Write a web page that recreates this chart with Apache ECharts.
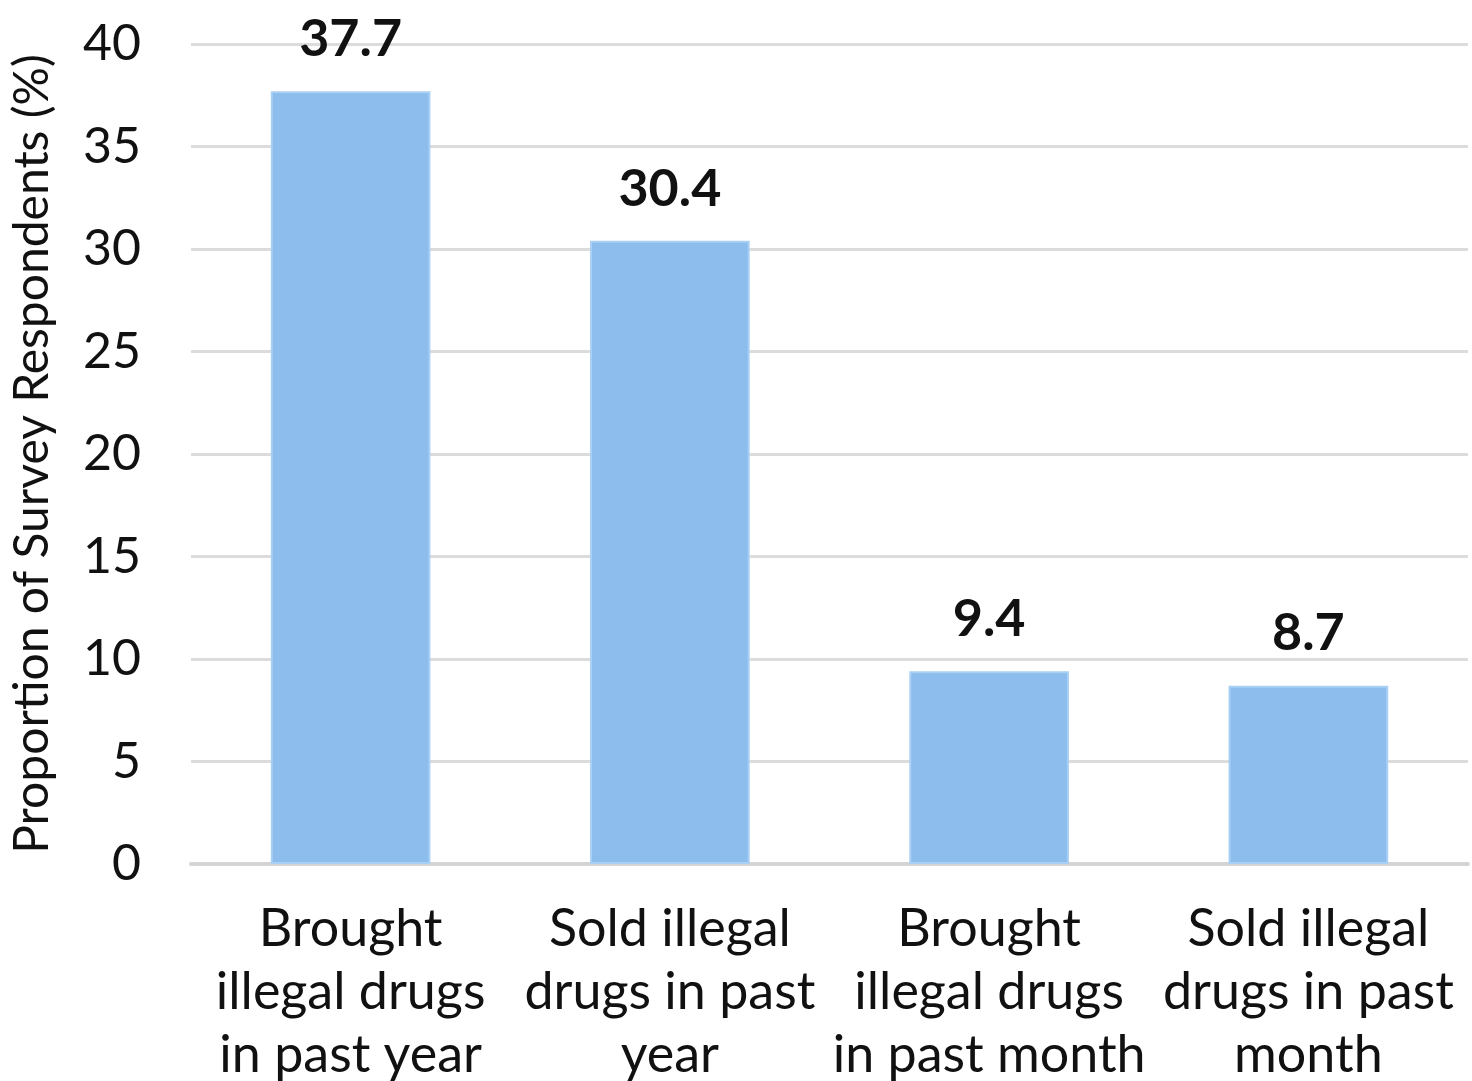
<!DOCTYPE html>
<html><head><meta charset="utf-8">
<script src="https://cdn.jsdelivr.net/npm/echarts@6/dist/echarts.min.js"></script>
<style>html,body{margin:0;padding:0;background:#fff}#c{width:1472px;height:1081px}</style>
</head><body><div id="c"></div>
<script>
const categories = ["Brought\nillegal drugs\nin past year", "Sold illegal\ndrugs in past\nyear", "Brought\nillegal drugs\nin past month", "Sold illegal\ndrugs in past\nmonth"];
const values = [37.7, 30.4, 9.4, 8.7];
const yTicks = [0, 5, 10, 15, 20, 25, 30, 35, 40];
const yAxisTitle = "Proportion of Survey Respondents (%)";

const chart = echarts.init(document.getElementById('c'));
const F = 'Lato, "Open Sans", sans-serif';
chart.setOption({
  animation: false,
  grid: {left: 191, right: 4, top: 44, bottom: 217, containLabel: false, outerBoundsMode: 'none'},
  xAxis: {
    type: 'category', data: categories,
    axisLine: {lineStyle: {color: '#d4d4d4', width: 4}},
    axisTick: {show: false},
    axisLabel: {fontFamily: F, fontSize: 52, color: '#111', lineHeight: 63, margin: 34, interval: 0}
  },
  yAxis: {
    type: 'value', min: yTicks[0], max: yTicks[yTicks.length-1], interval: 5,
    name: yAxisTitle, nameLocation: 'middle', nameGap: 134,
    nameTextStyle: {fontFamily: F, fontSize: 48, color: '#111'},
    axisLine: {show: false}, axisTick: {show: false},
    axisLabel: {fontFamily: F, fontSize: 50, color: '#111', margin: 50},
    splitLine: {lineStyle: {color: '#dcdcdc', width: 3}}
  },
  series: [{
    type: 'bar', data: values, barWidth: '50%',
    itemStyle: {color: '#8DBDED', borderColor: '#A8CFF4', borderWidth: 2},
    label: {show: true, position: 'top', distance: 26, fontFamily: F, fontSize: 52, fontWeight: 'bold', color: '#111'}
  }]
});
</script></body></html>
